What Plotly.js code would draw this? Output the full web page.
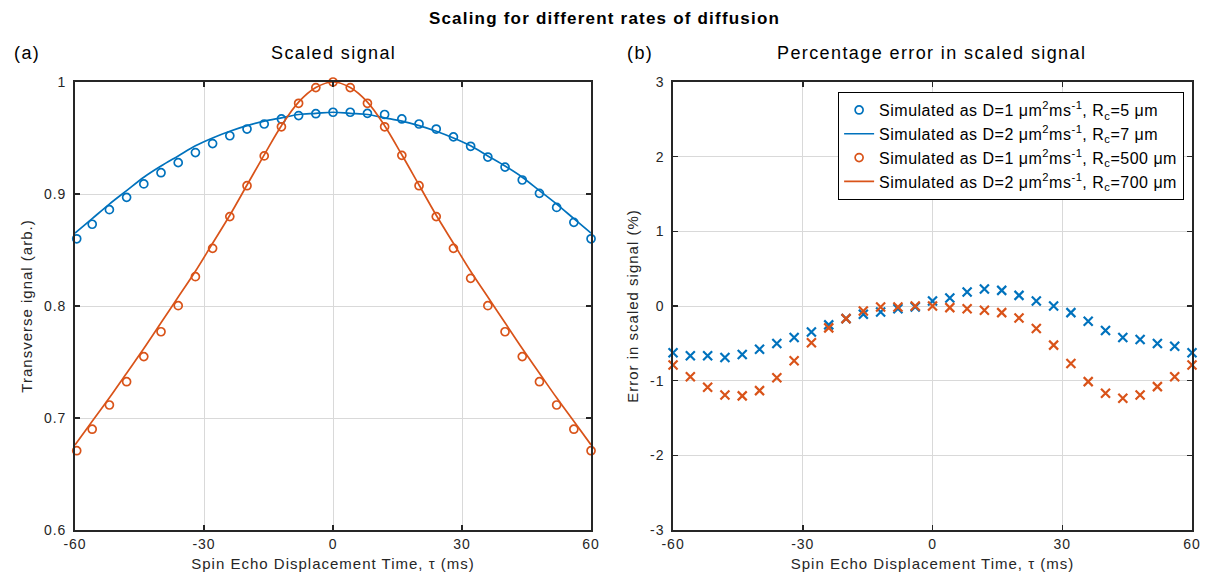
<!DOCTYPE html>
<html>
<head>
<meta charset="utf-8">
<script src="https://cdn.plot.ly/plotly-3.0.1.min.js"></script>
<style>
html,body{margin:0;padding:0;background:#fff;}
.gtitle{letter-spacing:1.2px;}
.annotation-text{letter-spacing:1.4px;}
.xtick text,.ytick text,.x2tick text,.y2tick text{letter-spacing:1px;}
.g-xtitle text,.g-ytitle text,.g-x2title text,.g-y2title text{letter-spacing:1px;}
.legendtext{letter-spacing:0.5px;}
</style>
</head>
<body>
<div id="chart" style="width:1209px;height:579px;"></div>
<script>
// ---- data ----
// simulated points, left panel (tau in ms)
const tauSim = [-61.2, -59.6, -56, -52, -48, -44, -40, -36, -32, -28, -24, -20, -16, -12, -8, -4, 0,
                4, 8, 12, 16, 20, 24, 28, 32, 36, 40, 44, 48, 52, 56, 60];
const simBlue = [0.860, 0.860, 0.873, 0.886, 0.897, 0.909, 0.919, 0.928, 0.937, 0.945, 0.952, 0.958, 0.9625, 0.967, 0.970, 0.9717, 0.973,
                 0.973, 0.972, 0.971, 0.967, 0.9625, 0.958, 0.951, 0.9426, 0.933, 0.924, 0.9125, 0.9006, 0.888, 0.8747, 0.860];
const simOrange = [0.6708, 0.6708, 0.690, 0.7116, 0.7324, 0.7548, 0.777, 0.8003, 0.8262, 0.8515, 0.8798, 0.9074, 0.934, 0.960, 0.981, 0.995, 1.000,
                   0.995, 0.981, 0.960, 0.9345, 0.9074, 0.8798, 0.8515, 0.8247, 0.8003, 0.777, 0.7548, 0.7324, 0.7116, 0.690, 0.6708];

// model curves, left panel
const tauLine = [-60, -56, -52, -48, -44, -40, -36, -32, -28, -24, -20, -16, -12, -8, -4, 0,
                 4, 8, 12, 16, 20, 24, 28, 32, 36, 40, 44, 48, 52, 56, 60];
const lineBlue = [0.865, 0.878, 0.891, 0.903, 0.915, 0.925, 0.934, 0.943, 0.950, 0.956, 0.961, 0.965, 0.968, 0.971, 0.972, 0.973,
                  0.972, 0.971, 0.968, 0.965, 0.961, 0.956, 0.950, 0.943, 0.934, 0.925, 0.915, 0.903, 0.891, 0.878, 0.865];
const lineOrange = [0.676, 0.697, 0.718, 0.740, 0.762, 0.785, 0.808, 0.831, 0.856, 0.881, 0.908, 0.935, 0.961, 0.982, 0.995, 1.000,
                    0.995, 0.982, 0.961, 0.935, 0.908, 0.881, 0.856, 0.831, 0.808, 0.785, 0.762, 0.740, 0.718, 0.697, 0.676];

// percentage error, right panel
const tauErr = [-60, -56, -52, -48, -44, -40, -36, -32, -28, -24, -20, -16, -12, -8, -4, 0,
                4, 8, 12, 16, 20, 24, 28, 32, 36, 40, 44, 48, 52, 56, 60];
const errBlue = [-0.627, -0.667, -0.667, -0.689, -0.649, -0.578, -0.502, -0.422, -0.347, -0.253, -0.169, -0.111, -0.080, -0.036, -0.013, 0.067,
                 0.107, 0.187, 0.227, 0.209, 0.142, 0.067, 0.000, -0.089, -0.204, -0.329, -0.422, -0.449, -0.502, -0.538, -0.627];
const errOrange = [-0.791, -0.947, -1.089, -1.191, -1.204, -1.133, -0.960, -0.733, -0.493, -0.293, -0.169, -0.067, -0.013, -0.013, 0.000, 0.000,
                   -0.022, -0.036, -0.058, -0.089, -0.160, -0.302, -0.524, -0.769, -1.013, -1.169, -1.236, -1.191, -1.080, -0.947, -0.791];

const legendNames = [
  'Simulated as D=1 μm<sup>2</sup>ms<sup>-1</sup>, R<sub>c</sub>=5 μm',
  'Simulated as D=2 μm<sup>2</sup>ms<sup>-1</sup>, R<sub>c</sub>=7 μm',
  'Simulated as D=1 μm<sup>2</sup>ms<sup>-1</sup>, R<sub>c</sub>=500 μm',
  'Simulated as D=2 μm<sup>2</sup>ms<sup>-1</sup>, R<sub>c</sub>=700 μm'
];
const xTicks = [-60, -30, 0, 30, 60];
const yTicksL = [0.6, 0.7, 0.8, 0.9, 1];
const yTickTextL = ['0.6', '0.7', '0.8', '0.9', '1'];
const yTicksR = [-3, -2, -1, 0, 1, 2, 3];

// ---- styling ----
const BLUE = '#0072BD', ORANGE = '#D95319', AX = '#262626', GRID = '#d9d9d9';
const FONT = 'Liberation Sans, Arial, Helvetica, sans-serif';

const traces = [
  {x: tauSim, y: simBlue, type: 'scatter', mode: 'markers', name: legendNames[0], xaxis: 'x', yaxis: 'y',
   cliponaxis: false, marker: {symbol: 'circle-open', size: 8, color: BLUE, line: {width: 1.7, color: BLUE}}},
  {x: tauLine, y: lineBlue, type: 'scatter', mode: 'lines', name: legendNames[1], xaxis: 'x', yaxis: 'y',
   line: {color: BLUE, width: 1.7, shape: 'spline'}},
  {x: tauSim, y: simOrange, type: 'scatter', mode: 'markers', name: legendNames[2], xaxis: 'x', yaxis: 'y',
   cliponaxis: false, marker: {symbol: 'circle-open', size: 8, color: ORANGE, line: {width: 1.7, color: ORANGE}}},
  {x: tauLine, y: lineOrange, type: 'scatter', mode: 'lines', name: legendNames[3], xaxis: 'x', yaxis: 'y',
   line: {color: ORANGE, width: 1.7, shape: 'spline'}},
  {x: tauErr, y: errBlue, type: 'scatter', mode: 'markers', showlegend: false, xaxis: 'x2', yaxis: 'y2',
   cliponaxis: false, marker: {symbol: 'x-thin', size: 9, color: BLUE, line: {width: 2.2, color: BLUE}}},
  {x: tauErr, y: errOrange, type: 'scatter', mode: 'markers', showlegend: false, xaxis: 'x2', yaxis: 'y2',
   cliponaxis: false, marker: {symbol: 'x-thin', size: 9, color: ORANGE, line: {width: 2.2, color: ORANGE}}}
];

function xAxis(domain, anchor) {
  return {
    domain: domain, anchor: anchor, range: [-60, 60], tickvals: xTicks, ticktext: xTicks.map(String),
    showgrid: true, gridcolor: GRID, gridwidth: 1, zeroline: false,
    showline: true, linecolor: AX, linewidth: 1.8, mirror: 'ticks',
    ticks: 'inside', ticklen: 5, tickwidth: 1.5, tickcolor: AX,
    tickfont: {family: FONT, size: 14, color: AX},
    title: {text: 'Spin Echo Displacement Time, τ (ms)', font: {family: FONT, size: 15, color: AX}, standoff: 8},
    automargin: false, fixedrange: true
  };
}
function yAxis(anchor, range, tickvals, ticktext, title) {
  return {
    anchor: anchor, range: range, tickvals: tickvals, ticktext: ticktext,
    showgrid: true, gridcolor: GRID, gridwidth: 1, zeroline: false,
    showline: true, linecolor: AX, linewidth: 1.8, mirror: 'ticks',
    ticks: 'inside', ticklen: 5, tickwidth: 1.5, tickcolor: AX, ticklabelstandoff: 4,
    tickfont: {family: FONT, size: 14, color: AX},
    title: {text: title, font: {family: FONT, size: 15, color: AX}, standoff: 8},
    automargin: false, fixedrange: true
  };
}

const layout = {
  width: 1209, height: 579,
  margin: {l: 75, r: 17, t: 82, b: 49, autoexpand: false},
  paper_bgcolor: '#ffffff', plot_bgcolor: '#ffffff',
  font: {family: FONT, color: AX},
  title: {text: '<b>Scaling for different rates of diffusion</b>', font: {family: FONT, size: 17, color: '#000'},
          x: 0.5, xref: 'container', xanchor: 'center', y: 0.969, yref: 'container', yanchor: 'middle'},
  xaxis: xAxis([0, 0.462], 'y'),
  yaxis: yAxis('x', [0.6, 1], yTicksL, yTickTextL, 'Transverse ignal (arb.)'),
  xaxis2: xAxis([0.5354, 1], 'y2'),
  yaxis2: yAxis('x2', [-3, 3], yTicksR, yTicksR.map(String), 'Error in scaled signal (%)'),
  showlegend: true,
  legend: {x: 0.683, y: 0.978, xanchor: 'left', yanchor: 'top', xref: 'paper', yref: 'paper',
           bgcolor: '#ffffff', bordercolor: '#000000', borderwidth: 1.2,
           font: {family: FONT, size: 16, color: '#000'}, itemwidth: 30, tracegroupgap: 0},
  annotations: [
    {text: 'Scaled signal', x: 0.231, y: 1.0647, xref: 'paper', yref: 'paper', xanchor: 'center', yanchor: 'middle',
     showarrow: false, font: {family: FONT, size: 18, color: '#000'}},
    {text: 'Percentage error in scaled signal', x: 0.767, y: 1.0647, xref: 'paper', yref: 'paper', xanchor: 'center', yanchor: 'middle',
     showarrow: false, font: {family: FONT, size: 18, color: '#000'}},
    {text: '(a)', x: -0.0564, y: 1.0647, xref: 'paper', yref: 'paper', xanchor: 'left', yanchor: 'middle',
     showarrow: false, font: {family: FONT, size: 18, color: '#000'}},
    {text: '(b)', x: 0.4924, y: 1.0647, xref: 'paper', yref: 'paper', xanchor: 'left', yanchor: 'middle',
     showarrow: false, font: {family: FONT, size: 18, color: '#000'}}
  ]
};

Plotly.newPlot('chart', traces, layout, {displayModeBar: false, staticPlot: true});
</script>
</body>
</html>
